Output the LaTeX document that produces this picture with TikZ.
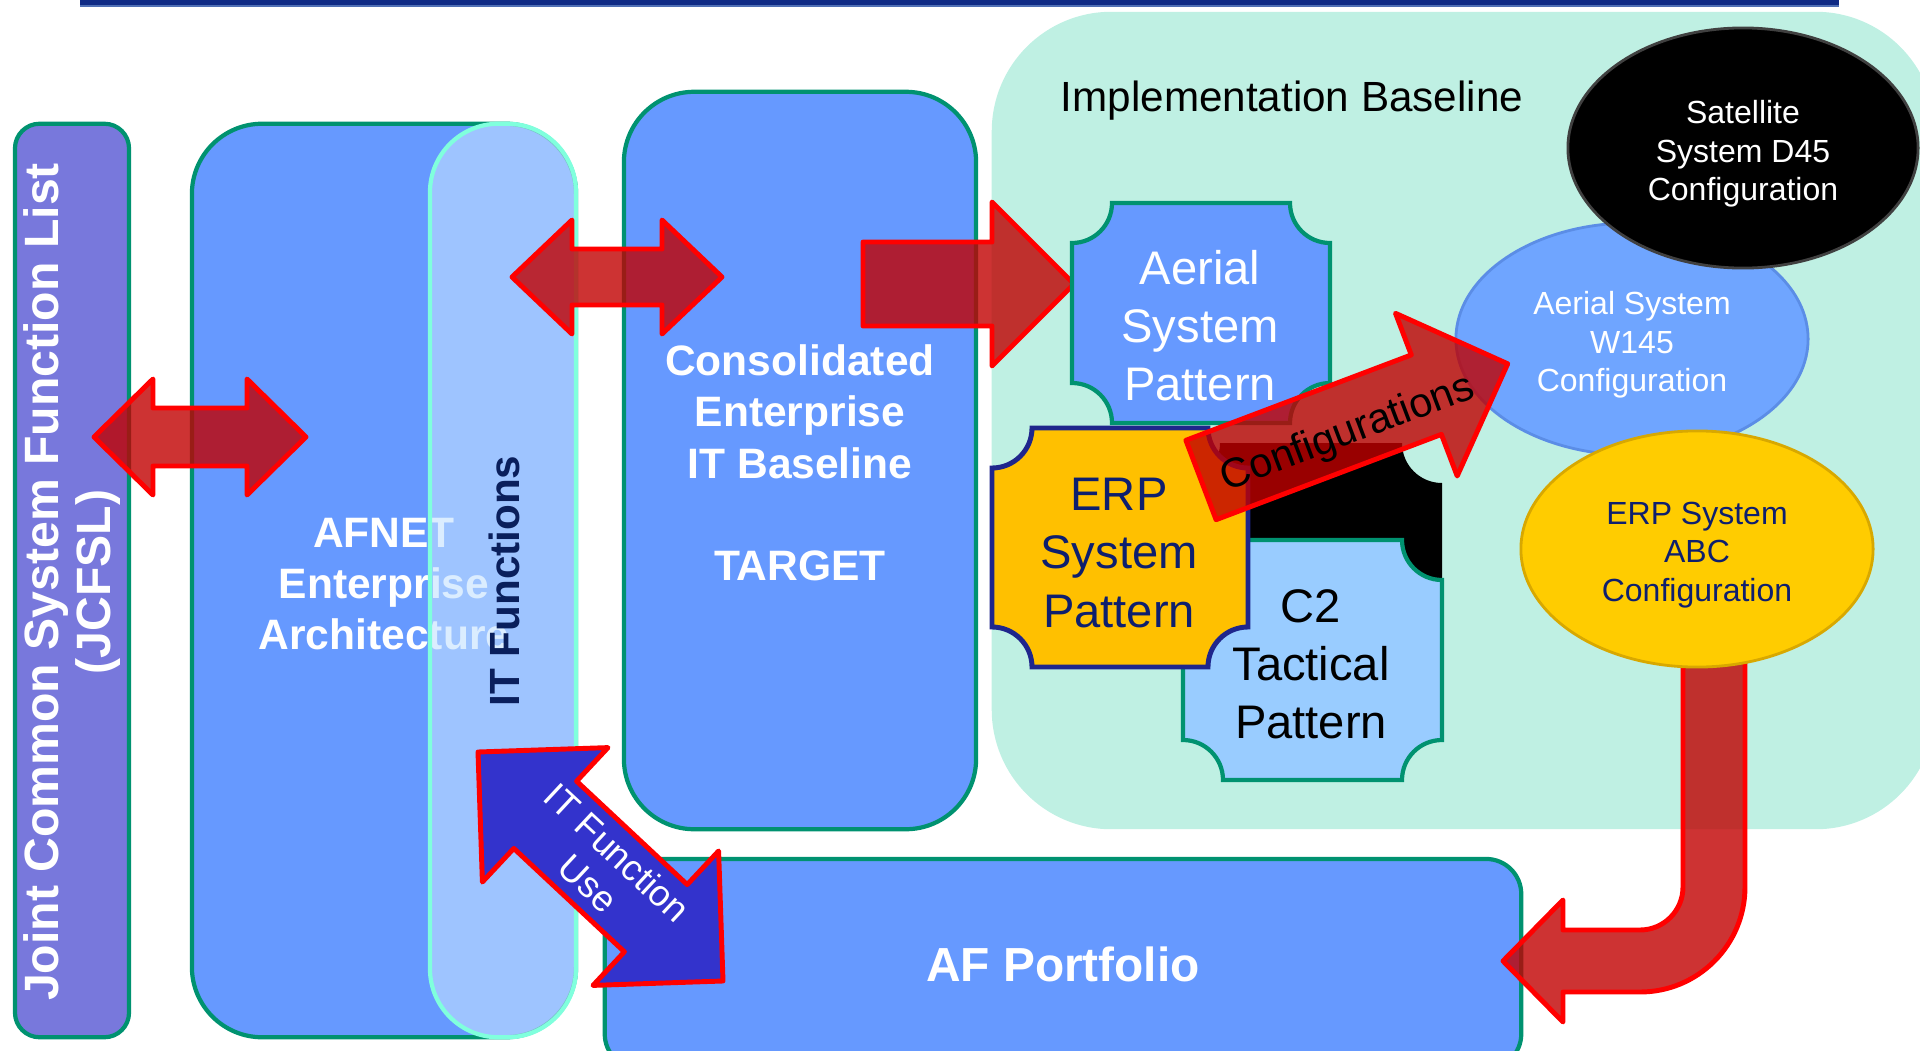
\documentclass[tikz,border=0pt]{standalone}
\usepackage{fontspec}
\setmainfont{Liberation Sans}
\usetikzlibrary{shapes.geometric}
\definecolor{navybar}{HTML}{0F2A85}
\definecolor{barlight}{HTML}{4F6FB5}
\definecolor{boxblue}{HTML}{6699FF}
\definecolor{bordergreen}{HTML}{009270}
\definecolor{jcfslpurple}{HTML}{7878DC}
\definecolor{itblue}{HTML}{C4E1FF}
\definecolor{aqua}{HTML}{80FFDD}
\definecolor{mintbg}{HTML}{BFF0E3}
\definecolor{erpyellow}{HTML}{FFC000}
\definecolor{erpnavy}{HTML}{1F268C}
\definecolor{ctwoblue}{HTML}{99CCFF}
\definecolor{arrowred}{HTML}{C00000}
\definecolor{brightred}{HTML}{FF0000}
\definecolor{arrowblue}{HTML}{3333CC}
\definecolor{ellblue}{HTML}{6FA5FF}
\definecolor{ellblueedge}{HTML}{5B8DE6}
\definecolor{ellyellow}{HTML}{FFCC00}
\definecolor{ellyellowedge}{HTML}{D8A800}
\definecolor{textnavy}{HTML}{0E1F6E}
\definecolor{itnavy}{HTML}{0A1F5C}
\newcommand{\dgBold}{\fontsize{12.1pt}{14.6pt}\selectfont\bfseries}
\newcommand{\dgJcfsl}{\fontsize{13.7pt}{14.8pt}\selectfont\bfseries}
\newcommand{\dgIT}{\fontsize{12pt}{14pt}\selectfont\bfseries}
\newcommand{\dgPort}{\fontsize{13.6pt}{16pt}\selectfont\bfseries}
\newcommand{\dgImpl}{\fontsize{12pt}{14pt}\selectfont}
\newcommand{\dgPat}{\fontsize{13.4pt}{16.5pt}\selectfont}
\newcommand{\dgEll}{\fontsize{9.1pt}{11pt}\selectfont}
\newcommand{\dgConf}{\fontsize{11.8pt}{13pt}\selectfont}
\newcommand{\dgUse}{\fontsize{10.4pt}{12pt}\selectfont}
\tikzset{
  greenbox/.style={draw=bordergreen, line width=1.2pt, fill=boxblue, inner sep=0pt},
  itbox/.style={draw=aqua, line width=1.2pt, fill=itblue, fill opacity=0.6, inner sep=0pt,
    minimum width=1.46cm, minimum height=9.13cm, rounded corners=19.5pt},
  redarrow/.style={fill=arrowred, fill opacity=0.8, draw=brightred, line width=1.4pt, line join=round},
  bluearrow/.style={fill=arrowblue, draw=brightred, line width=1.4pt, line join=round},
  plaque/.style n args={5}{insert path={(#1+#5,#2) -- (#3-#5,#2) arc[start angle=180,end angle=90,radius=#5]
     -- (#3,#4-#5) arc[start angle=270,end angle=180,radius=#5]
     -- (#1+#5,#4) arc[start angle=0,end angle=-90,radius=#5]
     -- (#1,#2+#5) arc[start angle=90,end angle=0,radius=#5] -- cycle}},
  configell/.style={ellipse, inner sep=0pt, line width=0.8pt},
  lbl/.style={align=center, inner sep=0pt}
}
\begin{document}
\begin{tikzpicture}[x=0.01cm, y=-0.01cm]
\useasboundingbox (0,0) rectangle (1920,1051);
% top bar
\fill[navybar] (80,0) rectangle (1839,5);
\fill[barlight] (80,5) rectangle (1839,7);
% implementation baseline region
\node[fill=mintbg, rounded corners=34pt, minimum width=9.43cm, minimum height=8.17cm, inner sep=0pt] (impl) at (1463.5,420.5) {};
\node[lbl, font=\dgImpl] (impltitle) at (1292,101) {Implementation Baseline};
% JCFSL
\node[greenbox, fill=jcfslpurple, minimum width=1.14cm, minimum height=9.13cm, rounded corners=7pt] (jcfsl) at (72,580.5) {};
\node[lbl, font=\dgJcfsl, text=white, rotate=90] (jcfsltext) at (72,582) {Joint Common System Function List\\(JCFSL)};
% AFNET
\node[greenbox, minimum width=3.84cm, minimum height=9.13cm, rounded corners=20pt] (afnet) at (384,580.5) {};
\node[lbl, text=white, font=\dgBold] (afnettext) at (384,584) {AFNET\\Enterprise\\Architecture};
% IT functions
\node[itbox] (itf) at (503,580.5) {};
\node[lbl, font=\dgIT, text=itnavy, rotate=90] (itftext) at (504,581) {IT Functions};
% Consolidated
\node[greenbox, minimum width=3.52cm, minimum height=7.37cm, rounded corners=20pt] (cons) at (800,460.5) {};
\node[lbl, text=white, font=\dgBold] (constext) at (800,463) {Consolidated\\Enterprise\\IT Baseline\\[14.6pt]TARGET};
% AF Portfolio
\node[greenbox, minimum width=9.16cm, minimum height=2.1cm, rounded corners=10pt, text=white, font=\dgPort] (port) at (1063,964) {AF Portfolio};
% red arrows
\draw[redarrow] (94,437) -- (153,379) -- (153,408) -- (247,408) -- (247,379) -- (306,437) -- (247,495) -- (247,466) -- (153,466) -- (153,495) -- cycle;
\draw[redarrow] (512,277) -- (572,220) -- (572,249) -- (662,249) -- (662,220) -- (722,277) -- (662,334) -- (662,305) -- (572,305) -- (572,334) -- cycle;
\draw[redarrow] (863,242) -- (992,242) -- (992,202) -- (1074,284) -- (992,366) -- (992,326) -- (863,326) -- cycle;
% plaques
\path[fill=boxblue, draw=bordergreen, line width=1.2pt, plaque={1072}{203}{1330}{423}{40}];
\node[lbl, font=\dgPat, text=white] (aerial) at (1200,326) {Aerial\\System\\Pattern};
\path[fill=black, plaque={1180}{443}{1442}{700}{40}];
\path[fill=ctwoblue, draw=bordergreen, line width=1.2pt, plaque={1183}{540}{1442}{780}{40}];
\node[lbl, font=\dgPat, text=black] (ctwo) at (1311,664) {C2\\Tactical\\Pattern};
\path[fill=erpyellow, draw=erpnavy, line width=1.4pt, plaque={992}{428}{1248}{667}{40}];
\node[lbl, font=\dgPat, text=textnavy] (erp) at (1119,553) {ERP\\System\\Pattern};
% configuration ellipses
\node[configell, fill=ellblue, draw=ellblueedge, minimum width=3.52cm, minimum height=2.32cm] (wone) at (1632,339) {};
\node[lbl, font=\dgEll, text=white] (wonetext) at (1632,345) {Aerial System\\W145\\Configuration};
\node[configell, fill=black, draw=black!75!white, minimum width=3.5cm, minimum height=2.4cm] (sat) at (1743,148) {};
\node[lbl, font=\dgEll, text=white] (sattext) at (1743,154) {Satellite\\System D45\\Configuration};
% configurations arrow
\draw[redarrow] (1185.9,440.3) -- (1411.3,354.9) -- (1395.5,313.3) -- (1507.7,363.8) -- (1457.2,476.0) -- (1441.4,434.4) -- (1216.1,519.7) -- cycle;
\node[lbl, font=\dgConf, rotate=20.75] (conftext) at (1348,434) {Configurations};
% curved arrow to portfolio
\draw[redarrow] (1683,640) -- (1683,887) arc[start angle=0,end angle=90,radius=43] -- (1563,930) -- (1563,900) -- (1503,961) -- (1563,1022) -- (1563,992) -- (1640,992) arc[start angle=90,end angle=0,radius=105] -- (1745,640) -- cycle;
\node[configell, fill=ellyellow, draw=ellyellowedge, minimum width=3.52cm, minimum height=2.36cm] (abc) at (1697,549) {};
\node[lbl, font=\dgEll, text=textnavy] (abctext) at (1697,555) {ERP System\\ABC\\Configuration};
% blue IT function use arrow
\draw[bluearrow] (478,752) -- (608,747.6) -- (576.6,781.2) -- (687.2,884.6) -- (718.6,851) -- (723,981) -- (593,985.4) -- (624.4,951.8) -- (513.8,848.4) -- (482.4,882) -- cycle;
\node[lbl, font=\dgUse, text=white, rotate=-43] (usetext) at (603,868) {IT Function\\Use};
\end{tikzpicture}
\end{document}
